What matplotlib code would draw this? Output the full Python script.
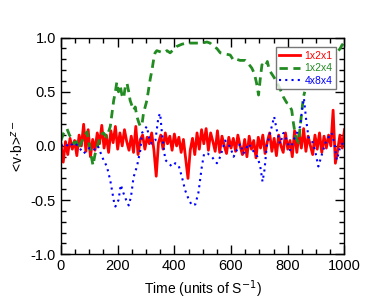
import matplotlib
matplotlib.use('Agg')
import matplotlib.pyplot as plt
import numpy as np
from matplotlib.ticker import MultipleLocator

plt.rcParams['font.family'] = ['Liberation Sans', 'DejaVu Sans']

# 1x2x1 run, sampled every 8 time units
red_t = np.arange(0, 1001, 8)
red_v = [0.02, -0.15, 0.04, -0.08, 0.07, -0.03, 0.05, -0.09, 0.1, 0.0, 0.2, -0.05, 0.15,
         -0.1, 0.06, -0.04, 0.12, 0.02, 0.19, -0.02, 0.1, -0.06, 0.14, 0.03, 0.18,
         -0.03, 0.12, 0.0, 0.15, 0.04, -0.04, 0.09, -0.06, 0.18, -0.08, 0.06, 0.1, -0.03, 0.08, 0.02, 0.12, -0.04,
         -0.28,
         0.03, 0.1, -0.03, 0.12, 0.02, 0.09, -0.04, 0.11, 0.0, 0.08, -0.06, 0.06, -0.12,
         -0.30,
         -0.04, 0.07, -0.08, 0.12, -0.03, 0.15, 0.02, 0.16, -0.04, 0.12, 0.04, -0.05, 0.14, -0.06, 0.09, 0.0, -0.07, 0.08, -0.02,
         0.07, -0.05, 0.1, 0.0, -0.08, 0.06, -0.1, 0.09, -0.03, 0.05, -0.11, 0.08, -0.02, 0.1, -0.07,
         0.04, 0.12, -0.05, 0.07, -0.09, 0.1, 0.0, -0.06, 0.12, -0.03, 0.05, -0.1, 0.14, -0.06, 0.12,
         -0.02, 0.16, -0.05, 0.09, 0.0, -0.08, 0.1, -0.03, 0.12, -0.06, 0.09, -0.02, 0.1, 0.0,
         0.33, -0.16, -0.04, 0.1, -0.02, 0.15]

# 1x2x4 run (leaves the frame between ~860 and ~975)
green_t = [0, 10, 21, 30, 40, 47, 55, 62, 75, 85, 92, 103, 113, 120, 127, 139, 150, 162, 174, 180, 186, 192,
           197, 203, 209, 215, 221, 227, 233, 239, 244, 256, 262, 268, 274, 280, 286, 291, 297, 303, 309, 315,
           321, 327, 332, 338, 350, 361, 374, 385, 397, 409, 427, 444, 462, 480, 497, 515, 526, 538, 550, 562,
           579, 597, 609, 620, 632, 650, 661, 673, 682, 690, 697, 703, 709, 720, 728, 735, 750, 762, 774, 785,
           796, 803, 814, 820, 828, 838, 844, 850, 855, 860, 975, 979, 985, 991, 1000]
green_v = [0.05, 0.12, 0.16, 0.1, 0.06, 0.02, 0.04, -0.02, 0.05, 0.1, 0.13, -0.04, -0.18, -0.08, -0.02, 0.1, 0.12, 0.08, 0.18,
           0.3, 0.42, 0.5, 0.59, 0.5, 0.56, 0.47, 0.44, 0.55, 0.58, 0.5, 0.42, 0.33, 0.36, 0.27, 0.22, 0.18, 0.2,
           0.30, 0.36, 0.42, 0.52, 0.62, 0.7, 0.80, 0.86, 0.88, 0.87, 0.86, 0.88, 0.86, 0.89, 0.92, 0.94, 0.95,
           0.95, 0.95, 0.95, 0.96, 0.95, 0.92, 0.90, 0.86, 0.85, 0.84, 0.79, 0.80, 0.79, 0.79, 0.76, 0.72, 0.67,
           0.58, 0.47, 0.62, 0.75, 0.73, 0.78, 0.70, 0.64, 0.59, 0.52, 0.45, 0.40, 0.39, 0.33, 0.21, 0.08, 0.03,
           0.18, 0.33, 0.45, 0.5, np.nan, 0.88, 0.90, 0.93, 0.96]

# 4x8x4 run
blue_t = [0, 15, 30, 45, 60, 80, 100, 115, 130, 150, 162, 174, 182, 188, 192, 203, 211, 221, 230, 239, 247, 256,
          268, 280, 286, 294, 303, 313, 321, 333, 344, 350, 356, 368, 380, 391, 403, 415, 427, 438, 450, 462,
          474, 485, 497, 505, 517, 532, 550, 562, 579, 597, 609, 620, 632, 644, 662, 679, 693, 703, 711, 718,
          726, 738, 752, 761, 773, 785, 797, 808, 820, 832, 844, 850, 857, 865, 873, 885, 896, 908, 918, 932,
          944, 955, 965, 973, 985, 1000]
blue_v = [0.0, 0.02, -0.01, 0.03, 0.0, -0.07, -0.02, -0.04, 0.0, -0.13, -0.19, -0.32, -0.44, -0.53, -0.56, -0.50, -0.36,
          -0.44, -0.50, -0.55, -0.47, -0.29, -0.19, -0.04, 0.12, 0.15, 0.18, 0.05, 0.02, 0.05, 0.27, 0.30, 0.12,
          -0.13, -0.16, -0.19, -0.16, -0.18, -0.29, -0.41, -0.49, -0.55, -0.54, -0.43, -0.19, -0.07, -0.07, -0.10,
          -0.16, -0.10, 0.05, -0.01, -0.10, -0.04, 0.02, -0.07, 0.02, -0.05, -0.10, -0.19, -0.33, -0.22, 0.0,
          0.12, 0.27, 0.15, 0.02, 0.12, 0.05, -0.04, 0.05, 0.12, 0.18, 0.33, 0.44, 0.24, 0.08, 0.05, -0.04, -0.19,
          -0.10, 0.02, 0.08, 0.12, 0.02, -0.13, -0.01, 0.05]

fig = plt.figure(figsize=(3.74, 2.99), dpi=100)
ax = fig.add_axes([0.163, 0.150, 0.758, 0.724])

ax.plot(red_t, red_v, color='#ff0000', lw=2.0, label='1x2x1')
ax.plot(green_t, green_v, color='#228b22', lw=2.0, ls=(0, (3, 2)), label='1x2x4')
ax.plot(blue_t, blue_v, color='#0000ff', lw=1.5, ls=(0, (1, 2)), label='4x8x4')

ax.set_xlim(0, 1000)
ax.set_ylim(-1, 1)
ax.xaxis.set_major_locator(MultipleLocator(200))
ax.xaxis.set_minor_locator(MultipleLocator(50))
ax.yaxis.set_major_locator(MultipleLocator(0.5))
ax.yaxis.set_minor_locator(MultipleLocator(0.1))
ax.yaxis.set_major_formatter(plt.FuncFormatter(lambda v, p: '%.1f' % v))
ax.tick_params(which='both', direction='in', top=True, right=True, labelsize=10.5, width=1)
ax.tick_params(which='major', length=6.5)
ax.tick_params(which='minor', length=3.5)
for s in ax.spines.values():
    s.set_linewidth(1)

ax.set_xlabel('Time (units of S$^{-1}$)', fontsize=10)
ax.set_ylabel('<v·b>$^{z-}$', fontsize=10)

leg = ax.legend(loc='upper right', fontsize=7.5, handlelength=2.0, handletextpad=0.4, frameon=True,
                fancybox=False, edgecolor='#555555', borderpad=0.35, labelspacing=0.25,
                borderaxespad=0, bbox_to_anchor=(0.971, 0.957))
leg.get_frame().set_linewidth(1)
for txt, ln in zip(leg.get_texts(), leg.get_lines()):
    txt.set_color(ln.get_color())

fig.savefig('out.png', dpi=100)
